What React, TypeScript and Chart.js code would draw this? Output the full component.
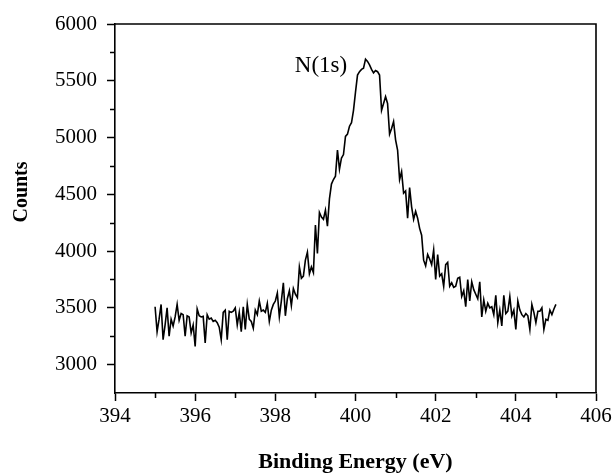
import { useEffect, useRef } from "react";
import { Chart, registerables } from "chart.js";

Chart.register(...registerables);

// Scan grid: 395.00 eV to 405.00 eV in 0.05 eV steps
const scanStart = 395;
const scanStep = 0.05;

// N(1s) counts
const counts: number[] = [
  3510, 3290, 3400, 3530, 3220, 3350, 3500, 3250, 3400, 3340,
  3420, 3530, 3390, 3450, 3440, 3250, 3430, 3420, 3280, 3350,
  3160, 3490, 3430, 3420, 3425, 3190, 3440, 3400, 3410, 3380,
  3390, 3370, 3330, 3220, 3460, 3480, 3220, 3470, 3460, 3470,
  3500, 3350, 3460, 3290, 3510, 3310, 3530, 3400, 3380, 3320,
  3480, 3440, 3560, 3470, 3480, 3460, 3540, 3380, 3480, 3530,
  3560, 3630, 3420, 3560, 3720, 3430, 3580, 3650, 3520, 3670,
  3620, 3590, 3860, 3760, 3780, 3920, 3990, 3800, 3860, 3810,
  4230, 3980, 4340, 4300, 4280, 4360, 4220, 4460, 4590, 4630,
  4660, 4890, 4720, 4820, 4850, 5010, 5030, 5100, 5130, 5240,
  5400, 5550, 5580, 5600, 5610, 5690, 5670, 5640, 5600, 5570,
  5590, 5580, 5550, 5240, 5300, 5360, 5300, 5030, 5080, 5140,
  4980, 4890, 4630, 4700, 4510, 4530, 4290, 4560, 4390, 4280,
  4350, 4290, 4200, 4140, 3920, 3870, 3970, 3930, 3880, 4010,
  3750, 3970, 3780, 3800, 3690, 3880, 3900, 3690, 3720, 3680,
  3690, 3760, 3770, 3600, 3650, 3510, 3750, 3560, 3730, 3660,
  3620, 3580, 3730, 3420, 3570, 3470, 3540, 3500, 3510, 3440,
  3610, 3370, 3480, 3340, 3610, 3450, 3470, 3600, 3430, 3480,
  3310, 3560, 3480, 3440, 3420, 3450, 3430, 3310, 3530, 3460,
  3370, 3470, 3470, 3500, 3310, 3400, 3390, 3480, 3440, 3490,
  3530,
];

const energies: number[] = counts.map((_, i) => +(scanStart + i * scanStep).toFixed(2));

const xTicks: number[] = [394, 396, 398, 400, 402, 404, 406];
const xMinorTicks: number[] = [395, 397, 399, 401, 403, 405];
const yTicks: number[] = [3000, 3500, 4000, 4500, 5000, 5500, 6000];
const yMinorTicks: number[] = [3250, 3750, 4250, 4750, 5250, 5750];

const peakLabel = "N(1s)";
const peakLabelX = 399.14;
const peakLabelY = 5573;

const xTitle = "Binding Energy (eV)";
const yTitle = "Counts";

const FONT = '"Liberation Serif", "Times New Roman", Times, serif';

export default function App() {
  const ref = useRef<HTMLCanvasElement | null>(null);

  useEffect(() => {
    if (!ref.current) return;
    const decor = {
      id: "decor",
      afterDraw(chart: any) {
        const { ctx, chartArea, scales } = chart;
        const xs = scales.x;
        const ys = scales.y;
        ctx.save();
        ctx.strokeStyle = "#000";
        ctx.lineWidth = 1.6;
        // top and right frame
        ctx.beginPath();
        ctx.moveTo(chartArea.left, chartArea.top);
        ctx.lineTo(chartArea.right, chartArea.top);
        ctx.lineTo(chartArea.right, chartArea.bottom);
        ctx.stroke();
        // minor ticks
        ctx.lineWidth = 1.5;
        ctx.beginPath();
        for (const v of xMinorTicks) {
          const px = Math.round(xs.getPixelForValue(v)) + 0.5;
          ctx.moveTo(px, chartArea.bottom);
          ctx.lineTo(px, chartArea.bottom + 5);
        }
        for (const v of yMinorTicks) {
          const py = Math.round(ys.getPixelForValue(v)) + 0.5;
          ctx.moveTo(chartArea.left, py);
          ctx.lineTo(chartArea.left - 5, py);
        }
        ctx.stroke();
        // peak label
        ctx.fillStyle = "#000";
        ctx.font = `23px ${FONT}`;
        ctx.textAlign = "center";
        ctx.textBaseline = "alphabetic";
        ctx.fillText(peakLabel, xs.getPixelForValue(peakLabelX), ys.getPixelForValue(peakLabelY));
        // axis titles
        ctx.font = `bold 22px ${FONT}`;
        ctx.fillText(xTitle, (chartArea.left + chartArea.right) / 2, 468);
        ctx.font = `bold 20px ${FONT}`;
        ctx.translate(27, 192);
        ctx.rotate(-Math.PI / 2);
        ctx.fillText(yTitle, 0, 0);
        ctx.restore();
      },
    };

    const chart = new Chart(ref.current, {
      type: "line",
      data: {
        datasets: [
          {
            data: energies.map((x, i) => ({ x, y: counts[i] })),
            borderColor: "#000",
            borderWidth: 1.6,
            pointRadius: 0,
            fill: false,
            tension: 0,
          },
        ],
      },
      options: {
        responsive: false,
        animation: false,
        layout: { padding: { top: 24, right: 19, left: 0, bottom: 0 } },
        plugins: { legend: { display: false }, tooltip: { enabled: false } },
        scales: {
          x: {
            type: "linear",
            min: 394,
            max: 406,
            afterBuildTicks: (s: any) => {
              s.ticks = xTicks.map((v) => ({ value: v }));
            },
            afterFit: (s: any) => {
              s.height = 80;
            },
            grid: {
              drawOnChartArea: false,
              drawTicks: true,
              tickLength: 8,
              tickColor: "#000",
              tickWidth: 1.5,
            },
            border: { color: "#000", width: 1.6 },
            ticks: {
              color: "#000",
              font: { family: FONT, size: 21 },
              padding: 3,
              maxRotation: 0,
              autoSkip: false,
            },
          },
          y: {
            type: "linear",
            min: 2750,
            max: 6000,
            afterBuildTicks: (s: any) => {
              s.ticks = yTicks.map((v) => ({ value: v }));
            },
            afterFit: (s: any) => {
              s.width = 115;
            },
            grid: {
              drawOnChartArea: false,
              drawTicks: true,
              tickLength: 8,
              tickColor: "#000",
              tickWidth: 1.5,
            },
            border: { color: "#000", width: 1.6 },
            ticks: {
              color: "#000",
              font: { family: FONT, size: 21 },
              padding: 10,
              autoSkip: false,
              callback: (v: any) => String(v),
            },
          },
        },
      },
      plugins: [decor],
    });
    return () => chart.destroy();
  }, []);

  return (
    <div style={{ position: "fixed", left: 0, top: 0, width: 615, height: 473, background: "#fff" }}>
      <canvas ref={ref} width={615} height={473} style={{ width: 615, height: 473 }} />
    </div>
  );
}
